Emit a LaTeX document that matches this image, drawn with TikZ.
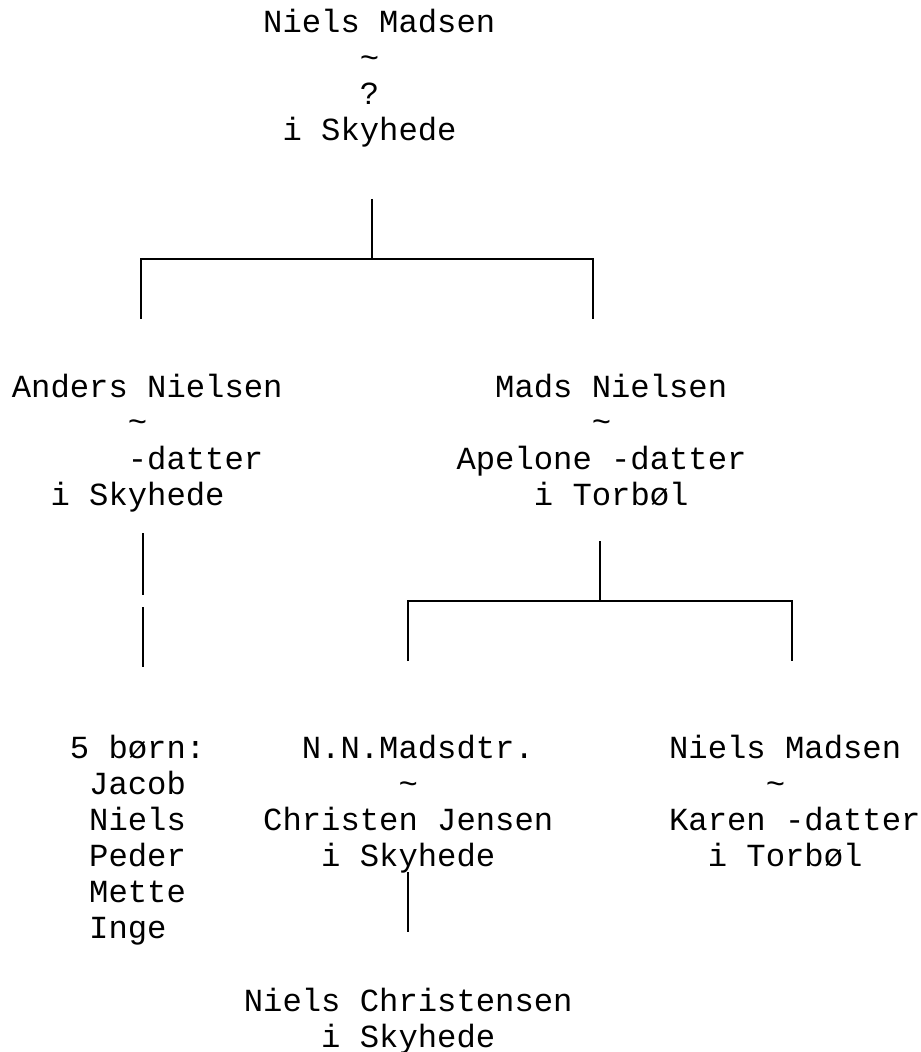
\documentclass[tikz,border=0pt]{standalone}
\usepackage{fontspec}
\newfontfamily\treefont{Liberation Mono}
% indent by a number of character cells
\newcommand\ind[1]{\hspace*{#1\dimexpr0.6em\relax}}
\tikzset{
  person/.style={anchor=base west,align=left,inner sep=0pt,
    font=\treefont\fontsize{16.11pt}{18pt}\selectfont},
  branch/.style={line width=1pt}
}
\begin{document}
\begin{tikzpicture}[x=0.5pt,y=-0.5pt]
  \useasboundingbox (0,0) rectangle (920,1052);
  % people (placed at the baseline of their last line)
  \node [person] (niels) at (262.8,141) {Niels Madsen\\\ind{5}\textasciitilde\\\ind{5}?\\\ind{1}i Skyhede};
  \node [person] (anders) at (11.5,505) {Anders Nielsen\\\ind{6}\textasciitilde\\\ind{6}-datter\\\ind{2}i Skyhede};
  \node [person] (mads) at (456.1,505) {\ind{2}Mads Nielsen\\\ind{7}\textasciitilde\\Apelone -datter\\\ind{4}i Torbøl};
  \node [person] (boern) at (69.5,938) {5 børn:\\\ind{1}Jacob\\\ind{1}Niels\\\ind{1}Peder\\\ind{1}Mette\\\ind{1}Inge};
  \node [person] (nnmads) at (262.8,866) {\ind{2}N.N.Madsdtr.\\\ind{7}\textasciitilde\\Christen Jensen\\\ind{3}i Skyhede};
  \node [person] (nielsm) at (668.7,866) {Niels Madsen\\\ind{5}\textasciitilde\\Karen -datter\\\ind{2}i Torbøl};
  \node [person] (nielsc) at (243.5,1047) {Niels Christensen\\\ind{4}i Skyhede};
  % joints of the branches
  \coordinate (niels-s) at (372,199);
  \coordinate (niels-j) at (372,259);
  \coordinate (anders-t) at (141,319);
  \coordinate (anders-j) at (141,259);
  \coordinate (mads-t) at (593,319);
  \coordinate (mads-j) at (593,259);
  \coordinate (anders-s) at (143,533);
  \coordinate (anders-m1) at (143,595);
  \coordinate (anders-m2) at (143,607);
  \coordinate (boern-t) at (143,667);
  \coordinate (mads-s) at (600,541);
  \coordinate (mads-m) at (600,601);
  \coordinate (nnmads-j) at (408,601);
  \coordinate (nnmads-t) at (408,661);
  \coordinate (nielsm-j) at (792,601);
  \coordinate (nielsm-t) at (792,661);
  \coordinate (nnmads-s) at (408,872);
  \coordinate (nielsc-t) at (408,932);
  % branches
  \draw [branch] (niels-s)--(niels-j);
  \draw [branch] (anders-t)--(anders-j)--(mads-j)--(mads-t);
  \draw [branch] (anders-s)--(anders-m1);
  \draw [branch] (anders-m2)--(boern-t);
  \draw [branch] (mads-s)--(mads-m);
  \draw [branch] (nnmads-t)--(nnmads-j)--(nielsm-j)--(nielsm-t);
  \draw [branch] (nnmads-s)--(nielsc-t);
\end{tikzpicture}
\end{document}
